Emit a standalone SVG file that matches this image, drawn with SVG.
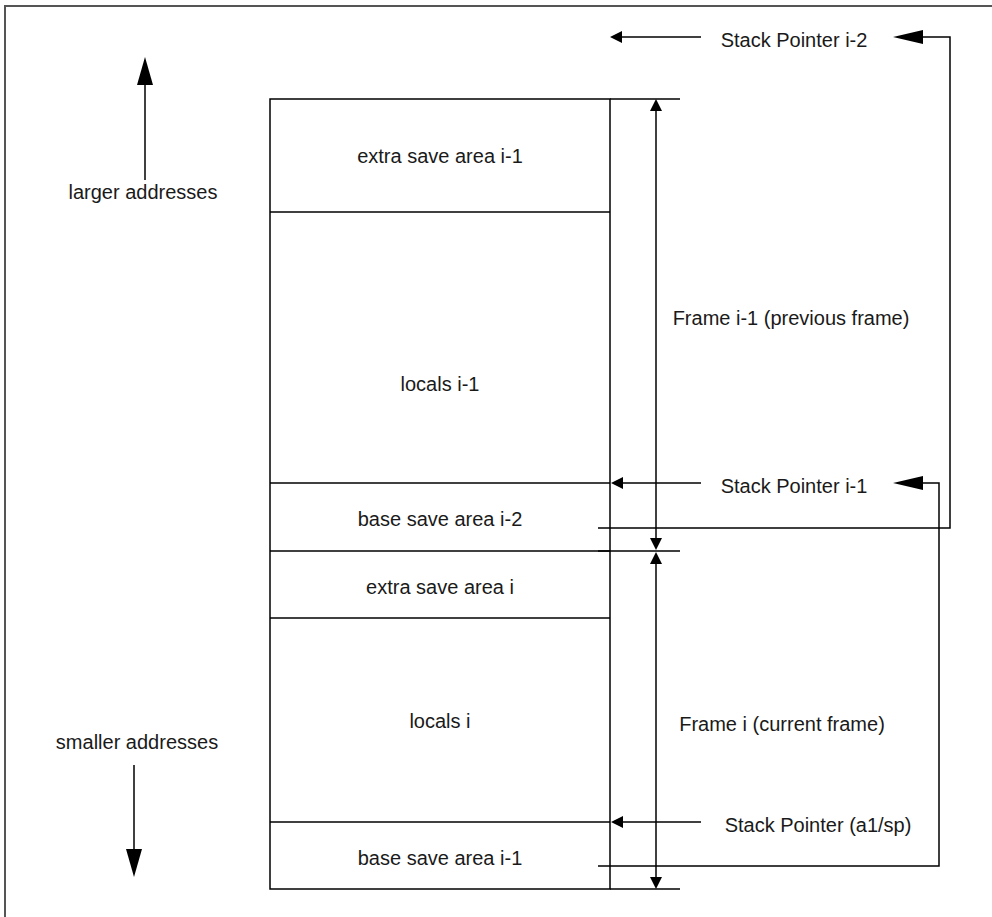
<svg xmlns="http://www.w3.org/2000/svg" width="992" height="917" viewBox="0 0 992 917">
<style>
.t{font-family:"Liberation Sans",Arial,sans-serif;font-size:20px;fill:#1a1a1a;text-anchor:middle}
.ln{stroke:#000;stroke-width:1.5;fill:none}
.bd{stroke:#555;stroke-width:2;fill:none}
.ah{fill:#000;stroke:none}
</style>
<rect width="992" height="917" fill="#fff"/>
<path class="bd" d="M5,917 V6 H992"/>
<g id="stack">
<rect x="270" y="99" width="340" height="790" class="ln"/>
</g>
<g id="extra-save-i-1"><line class="ln" x1="270" y1="212" x2="610" y2="212"/><text class="t" x="440" y="163">extra save area i-1</text></g>
<g id="locals-i-1"><line class="ln" x1="270" y1="483" x2="610" y2="483"/><text class="t" x="440" y="391">locals i-1</text></g>
<g id="base-save-i-2"><line class="ln" x1="270" y1="551" x2="610" y2="551"/><text class="t" x="440" y="526">base save area i-2</text></g>
<g id="extra-save-i"><line class="ln" x1="270" y1="618" x2="610" y2="618"/><text class="t" x="440" y="594">extra save area i</text></g>
<g id="locals-i"><line class="ln" x1="270" y1="822" x2="610" y2="822"/><text class="t" x="440" y="728">locals i</text></g>
<g id="base-save-i-1"><text class="t" x="440" y="865">base save area i-1</text></g>
<g id="larger"><text class="t" x="143" y="199">larger addresses</text></g>
<g id="smaller"><text class="t" x="137" y="749">smaller addresses</text></g>
<g id="sp-i-2"><text class="t" x="794" y="47">Stack Pointer i-2</text></g>
<g id="sp-i-1"><text class="t" x="794" y="493">Stack Pointer i-1</text></g>
<g id="sp"><text class="t" x="818" y="832">Stack Pointer (a1/sp)</text></g>
<g id="frame-i-1"><text class="t" x="791" y="325">Frame i-1 (previous frame)</text></g>
<g id="frame-i"><text class="t" x="782" y="731">Frame i (current frame)</text></g>
<g id="connectors">
<line class="ln" x1="145" y1="180" x2="145" y2="80"/>
<polygon class="ah" points="145,57 137,85 153,85"/>
<line class="ln" x1="134" y1="765" x2="134" y2="855"/>
<polygon class="ah" points="134,877 126,849 142,849"/>
<line class="ln" x1="610" y1="99" x2="680" y2="99"/>
<line class="ln" x1="598" y1="551" x2="680" y2="551"/>
<line class="ln" x1="610" y1="889" x2="680" y2="889"/>
<line class="ln" x1="656" y1="105" x2="656" y2="545"/>
<line class="ln" x1="656" y1="557" x2="656" y2="883"/>
<polygon class="ah" points="656,99 650,111 662,111"/>
<polygon class="ah" points="656,550 650,538 662,538"/>
<polygon class="ah" points="656,552 650,564 662,564"/>
<polygon class="ah" points="656,889 650,877 662,877"/>
<line class="ln" x1="701" y1="37" x2="620" y2="37"/>
<polygon class="ah" points="610,37 622,31 622,43"/>
<line class="ln" x1="701" y1="483" x2="620" y2="483"/>
<polygon class="ah" points="611,483 623,477 623,489"/>
<line class="ln" x1="701" y1="822" x2="620" y2="822"/>
<polygon class="ah" points="611,822 623,816 623,828"/>
<path class="ln" d="M598,528 H950 V37 H915"/>
<polygon class="ah" points="893,37 923,30 923,44"/>
<path class="ln" d="M598,866 H939 V483 H915"/>
<polygon class="ah" points="893,483 923,476 923,490"/>
</g>
</svg>
